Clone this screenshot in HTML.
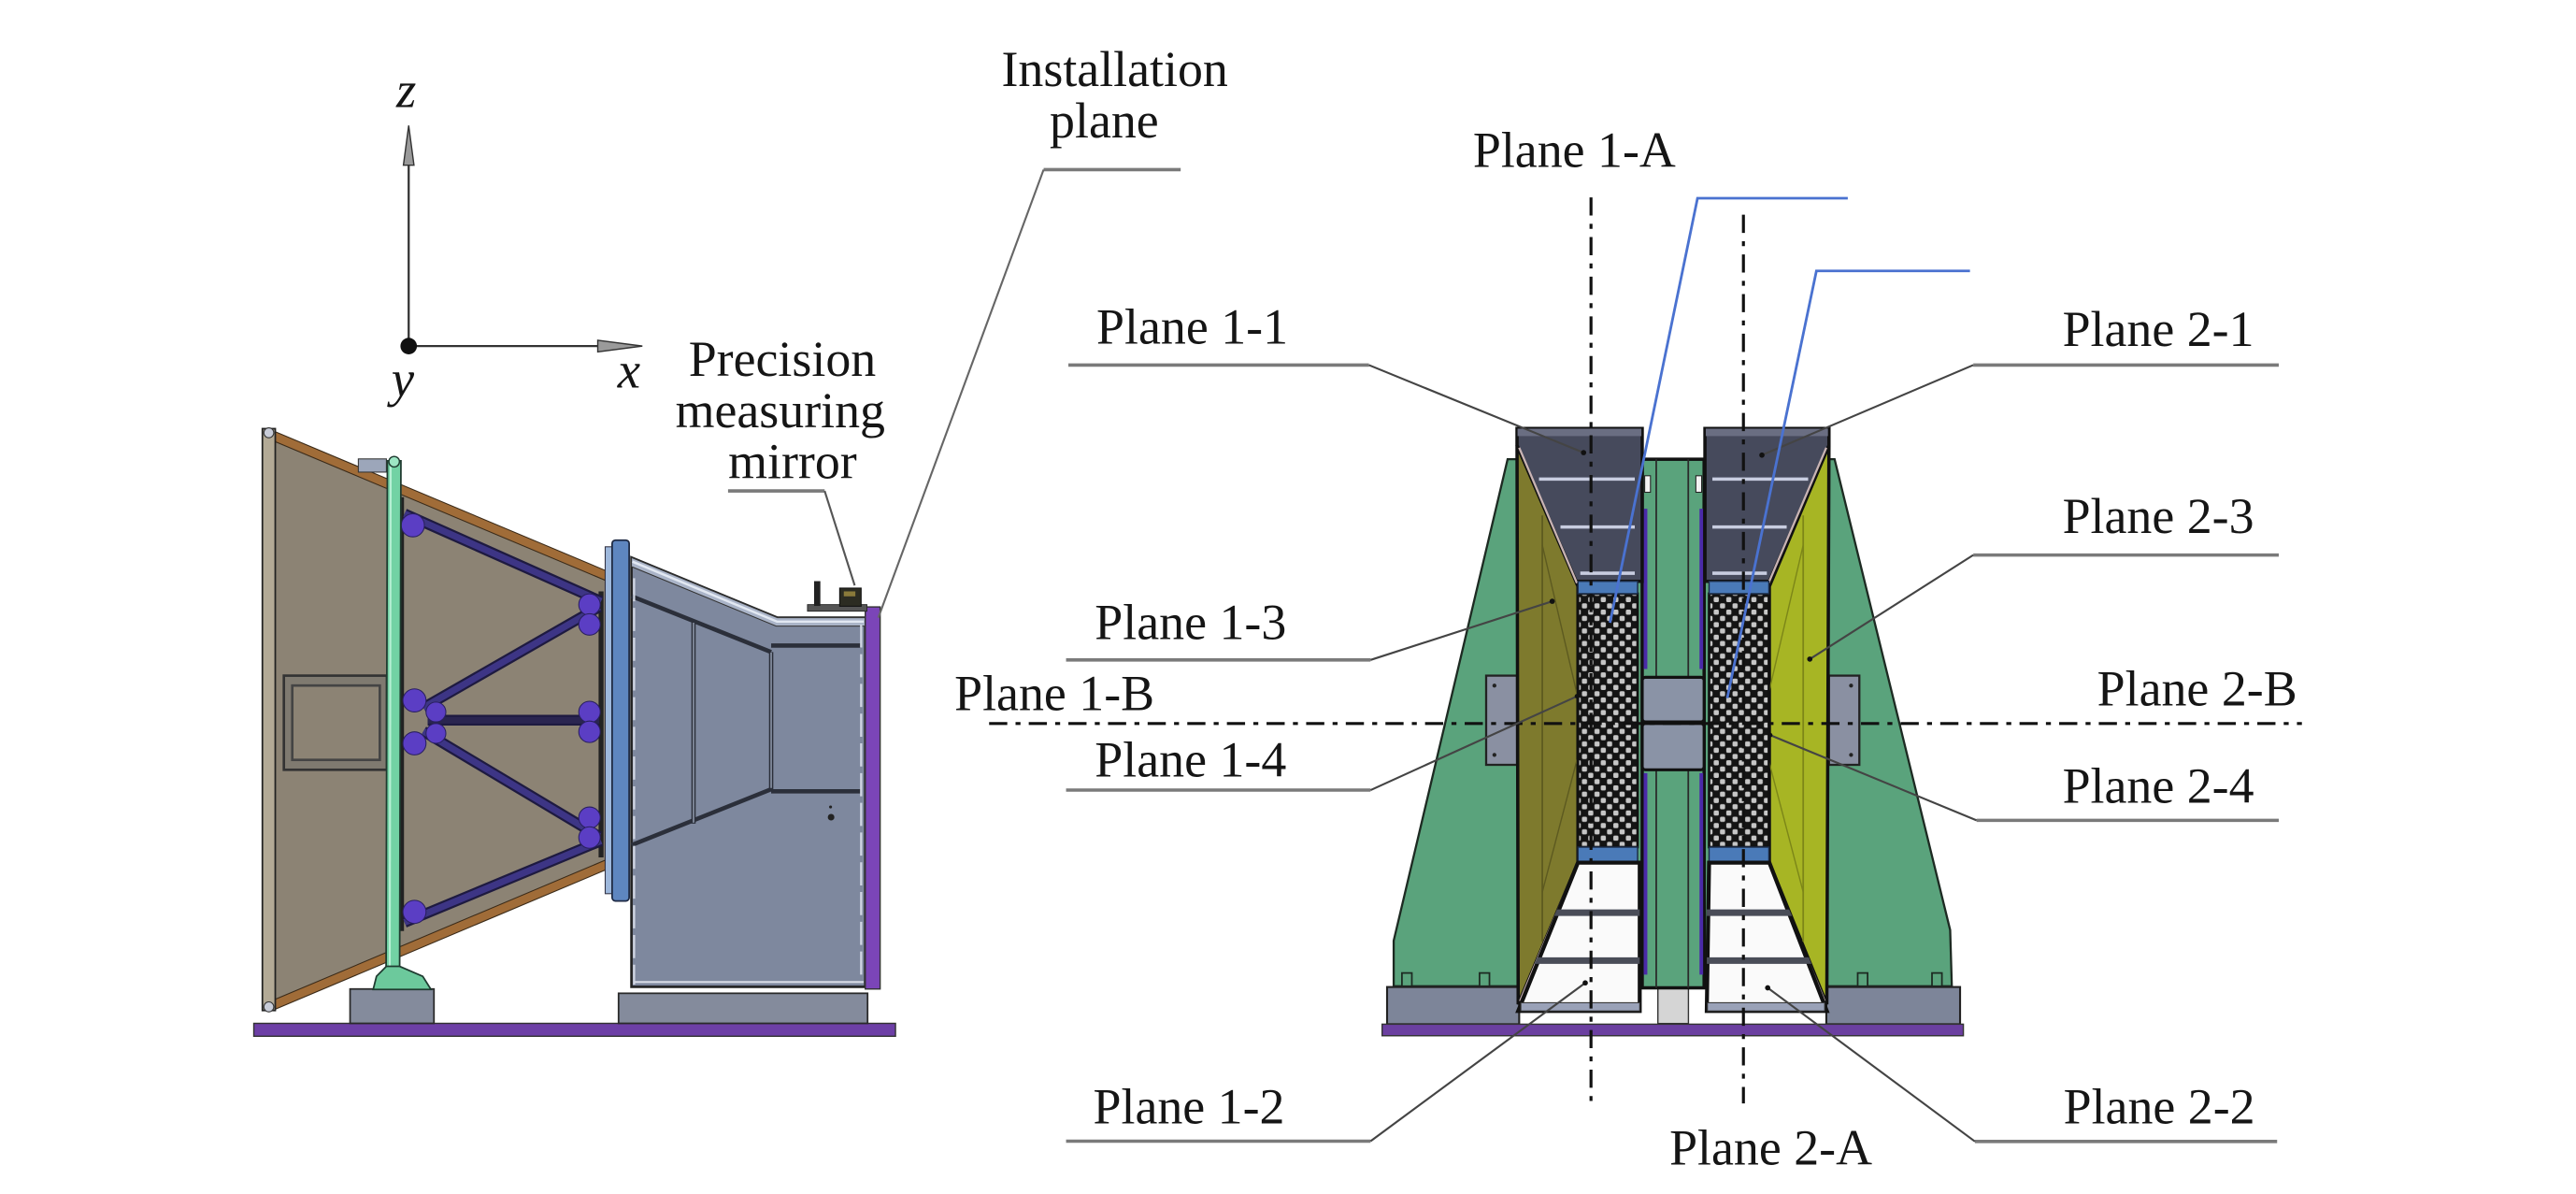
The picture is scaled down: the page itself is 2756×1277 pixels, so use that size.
<!DOCTYPE html>
<html>
<head>
<meta charset="utf-8">
<style>
html,body{margin:0;padding:0;background:#fff;}
svg{display:block;}
text{font-family:"Liberation Serif","Times New Roman",serif;fill:#151515;}
</style>
</head>
<body>
<svg width="2756" height="1277" viewBox="0 0 1560 722.8" preserveAspectRatio="none" xmlns="http://www.w3.org/2000/svg">
<defs>
<pattern id="chk" width="7.6" height="7.6" patternUnits="userSpaceOnUse">
<rect width="7.6" height="7.6" fill="#141414"/>
<rect x="0.4" y="0.4" width="3.1" height="3.1" rx="0.9" fill="#c6c6c6"/>
<rect x="4.2" y="4.2" width="3.1" height="3.1" rx="0.9" fill="#c6c6c6"/>
</pattern>
</defs>
<rect x="0" y="0" width="1560" height="722.8" fill="#fff"/>

<!-- ================= LEFT: axes ================= -->
<line x1="247.5" y1="98" x2="247.5" y2="209" stroke="#333" stroke-width="1.3"/>
<polygon points="247.5,76 244.3,100 250.7,100" fill="#9a9a9a" stroke="#333" stroke-width="0.8"/>
<line x1="247.5" y1="209.5" x2="362" y2="209.5" stroke="#333" stroke-width="1.3"/>
<polygon points="389,209.5 362,206 362,213" fill="#9a9a9a" stroke="#333" stroke-width="0.8"/>
<circle cx="247.5" cy="209.5" r="5" fill="#111"/>
<text x="240" y="64.7" font-size="31" font-style="italic">z</text>
<text x="237" y="240" font-size="31" font-style="italic">y</text>
<text x="374" y="234.5" font-size="31" font-style="italic">x</text>

<!-- labels left -->
<text x="606.5" y="52" font-size="30.5">Installation</text>
<text x="635.7" y="83.2" font-size="30.5">plane</text>
<text x="417" y="227.5" font-size="30.5">Precision</text>
<text x="409" y="258.7" font-size="30.5">measuring</text>
<text x="441" y="289.6" font-size="30.5">mirror</text>

<!-- ================= LEFT DEVICE ================= -->
<!-- base plate -->
<rect x="153.7" y="619.5" width="388.6" height="7.8" fill="#6d3fa6" stroke="#333" stroke-width="0.8"/>
<rect x="212" y="598.7" width="50.8" height="20.8" fill="#848b9c" stroke="#2a2a2a" stroke-width="1"/>
<rect x="374.6" y="601.3" width="150.8" height="18.2" fill="#848b9c" stroke="#2a2a2a" stroke-width="1"/>

<!-- horn -->
<polygon points="162.8,260.8 369.4,347.9 369.4,524.6 162.8,611.7" fill="#8c8374" stroke="#222" stroke-width="1"/>
<polygon points="163,259.8 369.4,346.5 369.4,352.5 163,265.8" fill="#a06c38" stroke="#3a2a18" stroke-width="0.6"/>
<polygon points="163,612.5 369.4,525.5 369.4,519.5 163,606.5" fill="#a06c38" stroke="#3a2a18" stroke-width="0.6"/>
<rect x="158.9" y="259.5" width="7.8" height="352.2" fill="#b3aa96" stroke="#222" stroke-width="1"/>
<circle cx="162.8" cy="262" r="3" fill="#c8ccd8" stroke="#333" stroke-width="0.6"/>
<circle cx="162.8" cy="609.5" r="3" fill="#c8ccd8" stroke="#333" stroke-width="0.6"/>

<!-- window -->
<rect x="171.9" y="409" width="62.4" height="57" fill="#7f7a70" stroke="#333" stroke-width="1.5"/>
<rect x="177" y="415" width="53" height="45" fill="#8c8374" stroke="#444" stroke-width="1.5"/>

<!-- frame struts -->
<line x1="243.4" y1="301" x2="243.4" y2="563.6" stroke="#222" stroke-width="2.5"/>
<line x1="364" y1="358" x2="364" y2="519" stroke="#222" stroke-width="3"/>
<g stroke="#1e1a40" stroke-width="6.5" stroke-linecap="butt">
<line x1="245" y1="311" x2="364" y2="364"/>
<line x1="256.4" y1="428.4" x2="362.9" y2="367.4"/>
<line x1="259" y1="436" x2="362.9" y2="436"/>
<line x1="256.4" y1="442.7" x2="362.9" y2="506.4"/>
<line x1="245" y1="558.4" x2="364" y2="509"/>
</g>
<g stroke="#3d3585" stroke-width="4" stroke-linecap="butt">
<line x1="245" y1="311" x2="364" y2="364"/>
<line x1="256.4" y1="428.4" x2="362.9" y2="367.4"/>
<line x1="256.4" y1="442.7" x2="362.9" y2="506.4"/>
<line x1="245" y1="558.4" x2="364" y2="509"/>
</g>
<line x1="259" y1="436" x2="362.9" y2="436" stroke="#2a2550" stroke-width="4"/>
<g fill="#5b3ec4" stroke="#2a2060" stroke-width="0.6">
<circle cx="250" cy="318" r="7"/>
<circle cx="357" cy="366" r="6.5"/>
<circle cx="357" cy="378" r="6.5"/>
<circle cx="251" cy="424" r="7"/>
<circle cx="264" cy="431" r="6"/>
<circle cx="357" cy="431" r="6.5"/>
<circle cx="357" cy="443" r="6.5"/>
<circle cx="264" cy="444" r="6"/>
<circle cx="251" cy="450" r="7"/>
<circle cx="357" cy="495" r="6.5"/>
<circle cx="357" cy="507" r="6.5"/>
<circle cx="251" cy="552" r="7"/>
</g>

<!-- green post -->
<rect x="217" y="277.8" width="17" height="8" fill="#9ca6ba" stroke="#333" stroke-width="0.6"/>
<polygon points="234.6,279 242.8,279 242,594 233.8,594" fill="#72d2a4" stroke="#1f3b30" stroke-width="1"/>
<line x1="236.6" y1="282" x2="236" y2="592" stroke="#b6f0d4" stroke-width="1.2"/>
<circle cx="238.7" cy="279.5" r="3.2" fill="#9de6c4" stroke="#1f3b30" stroke-width="0.8"/>
<polygon points="234,585 242,585 256,591 261,599 226,599 228,591" fill="#6cc99c" stroke="#1f3b30" stroke-width="1"/>

<!-- flange -->
<rect x="366.5" y="331" width="5" height="210" fill="#9eb8dc" stroke="#334" stroke-width="0.6"/>
<rect x="370.7" y="327" width="10.3" height="218.4" rx="2" fill="#5e86c0" stroke="#1e2a44" stroke-width="1"/>

<!-- gray box -->
<polygon points="382.4,337.5 470.8,373.9 524,373.9 524,597.4 382.4,597.4" fill="#7e889e" stroke="#222" stroke-width="1.5"/>
<polygon points="382.4,337.5 470.8,373.9 524,373.9 524,379 470,379 382.4,343" fill="#aab4c8" stroke="#333" stroke-width="0.6"/>
<polyline points="383,340 470.5,376.3 523,376.3" fill="none" stroke="#e2e8f2" stroke-width="1.4"/>
<g stroke="#2b2f3a" stroke-width="2.6" fill="none">
<line x1="420" y1="376.4" x2="420" y2="498.6"/>
<line x1="467" y1="394.7" x2="467" y2="477.8"/>
<line x1="467" y1="390.8" x2="521" y2="390.8"/>
<line x1="467" y1="479" x2="521" y2="479"/>
<line x1="382.4" y1="360.9" x2="467" y2="394.7"/>
<line x1="382.4" y1="511.6" x2="467" y2="477.8"/>
</g>
<g stroke="#9aa4b8" stroke-width="0.8" fill="none">
<line x1="420" y1="377" x2="420" y2="498"/>
<line x1="467" y1="395" x2="467" y2="477"/>
</g>
<line x1="384" y1="350" x2="384" y2="596" stroke="#d0d6e2" stroke-width="1.3" stroke-dasharray="14 4"/>
<line x1="521.5" y1="378" x2="521.5" y2="595" stroke="#d0d6e2" stroke-width="1.3" stroke-dasharray="14 4"/>
<line x1="384" y1="594.5" x2="523" y2="594.5" stroke="#d8dce6" stroke-width="1.2"/>
<circle cx="503.3" cy="494.7" r="2" fill="#222"/>
<circle cx="503" cy="488.5" r="0.9" fill="#222"/>

<!-- purple right plate -->
<rect x="524" y="367.4" width="9" height="231.3" fill="#7b45b8" stroke="#333" stroke-width="0.8"/>

<!-- mirror -->
<rect x="489" y="366" width="36" height="4" fill="#555" stroke="#222" stroke-width="0.5"/>
<rect x="493" y="351.8" width="3.8" height="15" fill="#222"/>
<rect x="508.5" y="356" width="13" height="11" fill="#2c2c22" stroke="#111" stroke-width="0.6"/>
<rect x="511" y="358" width="7" height="3" fill="#8a7a3a"/>

<!-- left leaders -->
<line x1="632" y1="102.7" x2="715" y2="102.7" stroke="#7a7a7a" stroke-width="2"/>
<line x1="632" y1="102.7" x2="531.9" y2="373.9" stroke="#666" stroke-width="1.2"/>
<line x1="440.9" y1="297.2" x2="499.4" y2="297.2" stroke="#7a7a7a" stroke-width="2"/>
<line x1="499.4" y1="297.2" x2="517.6" y2="354.4" stroke="#555" stroke-width="1.2"/>

<!-- ================= RIGHT DEVICE ================= -->
<!-- green body -->
<polygon points="913,278 1111,278 1181,563 1182,597 844,597 844,569.5" fill="#5aa37c" stroke="#1d2a22" stroke-width="1.3"/>
<!-- feet notches -->
<g fill="#5aa37c" stroke="#1d2a22" stroke-width="1">
<rect x="849" y="589" width="6" height="8"/>
<rect x="896" y="589" width="6" height="8"/>
<rect x="1125" y="589" width="6" height="8"/>
<rect x="1170" y="589" width="6" height="8"/>
</g>
<!-- base -->
<rect x="840" y="597.5" width="80" height="22.5" fill="#7d8599" stroke="#222" stroke-width="1.2"/>
<rect x="1106" y="597.5" width="81" height="22.5" fill="#7d8599" stroke="#222" stroke-width="1.2"/>
<rect x="1004" y="598" width="18.5" height="21.6" fill="#d5d5d5" stroke="#333" stroke-width="0.8"/>
<rect x="837" y="620" width="352" height="7" fill="#6b3fa0" stroke="#333" stroke-width="0.8"/>

<!-- brackets -->
<rect x="900" y="409" width="18.7" height="54" fill="#8a90a2" stroke="#222" stroke-width="1.3"/>
<circle cx="905" cy="415" r="1.2" fill="#222"/><circle cx="905" cy="457" r="1.2" fill="#222"/>
<rect x="1107.6" y="409" width="18.4" height="54" fill="#8a90a2" stroke="#222" stroke-width="1.3"/>
<circle cx="1121" cy="415" r="1.2" fill="#222"/><circle cx="1121" cy="457" r="1.2" fill="#222"/>

<!-- yellow panels -->
<polygon points="918.7,269.6 955.6,355 955.6,522 919.4,608" fill="#7e7a2d" stroke="#111" stroke-width="2"/>
<polygon points="1107.6,269.6 1071.5,355 1071.5,522 1106.3,608" fill="#a7b524" stroke="#111" stroke-width="2"/>
<line x1="934" y1="312" x2="934" y2="570" stroke="#5d5a20" stroke-width="1"/>
<line x1="1092" y1="312" x2="1092" y2="570" stroke="#7c8618" stroke-width="1"/>
<line x1="934" y1="330" x2="955" y2="420" stroke="#5d5a20" stroke-width="0.8"/>
<line x1="934" y1="540" x2="955" y2="460" stroke="#5d5a20" stroke-width="0.8"/>
<line x1="1092" y1="330" x2="1071" y2="420" stroke="#7c8618" stroke-width="0.8"/>
<line x1="1092" y1="540" x2="1071" y2="460" stroke="#7c8618" stroke-width="0.8"/>

<!-- center column -->
<rect x="994.5" y="278" width="37.5" height="320" fill="#5aa37c" stroke="#111" stroke-width="2"/>
<line x1="1003" y1="278" x2="1003" y2="598" stroke="#2a2a2a" stroke-width="1"/>
<line x1="1022.4" y1="278" x2="1022.4" y2="598" stroke="#2a2a2a" stroke-width="1"/>
<g stroke="#4a2aa8" stroke-width="2.2">
<line x1="996.5" y1="308" x2="996.5" y2="405"/>
<line x1="996.5" y1="468" x2="996.5" y2="590"/>
<line x1="1030.3" y1="308" x2="1030.3" y2="405"/>
<line x1="1030.3" y1="468" x2="1030.3" y2="590"/>
</g>
<rect x="996" y="288" width="3.5" height="10" fill="#f2f2f2" stroke="#222" stroke-width="0.6"/>
<rect x="1027" y="288" width="3.5" height="10" fill="#f2f2f2" stroke="#222" stroke-width="0.6"/>
<rect x="994.5" y="410" width="37.5" height="27" rx="2" fill="#8a93a6" stroke="#111" stroke-width="1.8"/>
<rect x="994.5" y="438" width="37.5" height="28" rx="2" fill="#8a93a6" stroke="#111" stroke-width="1.8"/>

<!-- dark boxes -->
<polygon points="918.7,259.4 994.5,259.4 994.5,351.9 954.5,351.9 918.7,269.6" fill="#464a5c" stroke="#111" stroke-width="2"/>
<rect x="919" y="259.5" width="75" height="4.5" fill="#6a6e82"/>
<polygon points="1032.5,259.4 1107.6,259.4 1107.6,269.6 1071.5,351.9 1032.5,351.9" fill="#464a5c" stroke="#111" stroke-width="2"/>
<rect x="1033" y="259.5" width="74" height="4.5" fill="#6a6e82"/>
<g stroke="#c8cde0" stroke-width="2">
<line x1="932" y1="290" x2="990" y2="290"/>
<line x1="945" y1="319" x2="990" y2="319"/>
<line x1="957" y1="347" x2="990" y2="347"/>
<line x1="1037" y1="290" x2="1095" y2="290"/>
<line x1="1037" y1="319" x2="1082" y2="319"/>
<line x1="1037" y1="347" x2="1070" y2="347"/>
</g>
<!-- slanted light edges -->
<g stroke="#c9b4b4" stroke-width="1.3">
<line x1="920" y1="271" x2="955" y2="353"/>
<line x1="955" y1="523" x2="920.5" y2="606"/>
<line x1="1106" y1="271" x2="1071" y2="353"/>
<line x1="1071" y1="523" x2="1105" y2="606"/>
</g>

<!-- checker columns -->
<rect x="955.6" y="359.4" width="36.1" height="153.4" fill="url(#chk)" stroke="#111" stroke-width="1.5"/>
<rect x="1035" y="359.4" width="36.2" height="153.4" fill="url(#chk)" stroke="#111" stroke-width="1.5"/>
<rect x="955.6" y="351.9" width="36.1" height="7.5" fill="#4a7ab8" stroke="#1a2a44" stroke-width="0.8"/>
<rect x="1035" y="351.9" width="36.2" height="7.5" fill="#4a7ab8" stroke="#1a2a44" stroke-width="0.8"/>
<rect x="955.6" y="512.8" width="36.1" height="9.4" fill="#4a7ab8" stroke="#1a2a44" stroke-width="0.8"/>
<rect x="1035" y="512.8" width="36.2" height="9.4" fill="#4a7ab8" stroke="#1a2a44" stroke-width="0.8"/>

<!-- white lower trapezoids -->
<polygon points="955.6,522.2 993,522.2 993,612 919.4,612" fill="#fafafa" stroke="#111" stroke-width="2.4"/>
<polygon points="1035,522.2 1071.5,522.2 1106.3,612 1033.6,612" fill="#fafafa" stroke="#111" stroke-width="2.4"/>
<g fill="#4a4d58">
<polygon points="943,550.5 993,550.5 993,554.5 941.3,554.5"/>
<polygon points="931,579.5 993,579.5 993,583.5 929.3,583.5"/>
<polygon points="1033.6,550.5 1083.5,550.5 1085.2,554.5 1033.6,554.5"/>
<polygon points="1033.6,579.5 1095.4,579.5 1097,583.5 1033.6,583.5"/>
</g>
<rect x="921" y="607" width="72" height="5" fill="#9aa2b8" stroke="#333" stroke-width="0.6"/>
<rect x="1034" y="607" width="71" height="5" fill="#9aa2b8" stroke="#333" stroke-width="0.6"/>

<!-- dash-dot axes -->
<g stroke="#111" stroke-width="1.8" fill="none" stroke-dasharray="11 5 3 5">
<line x1="963.5" y1="119.5" x2="963.5" y2="668"/>
<line x1="1055.8" y1="130" x2="1055.8" y2="668"/>
<line x1="599" y1="438" x2="1394" y2="438"/>
</g>

<!-- right leaders -->
<g stroke="#7a7a7a" stroke-width="2" fill="none">
<line x1="647" y1="221" x2="829" y2="221"/>
<line x1="645.6" y1="399.5" x2="830" y2="399.5"/>
<line x1="645.6" y1="478.3" x2="830" y2="478.3"/>
<line x1="645.6" y1="690.8" x2="830" y2="690.8"/>
<line x1="1195" y1="221" x2="1380" y2="221"/>
<line x1="1195" y1="336" x2="1380" y2="336"/>
<line x1="1197" y1="496.6" x2="1380" y2="496.6"/>
<line x1="1196" y1="691" x2="1379" y2="691"/>
</g>
<g stroke="#444" stroke-width="1.2" fill="none">
<line x1="829" y1="221" x2="959" y2="274"/>
<line x1="830" y1="399.5" x2="940" y2="364"/>
<line x1="830" y1="478.3" x2="955" y2="421.5"/>
<line x1="830" y1="690.8" x2="960" y2="595"/>
<line x1="1195" y1="221" x2="1067" y2="275.5"/>
<line x1="1195" y1="336" x2="1096" y2="399"/>
<line x1="1197" y1="496.6" x2="1072" y2="445"/>
<line x1="1196" y1="691" x2="1070.5" y2="598"/>
</g>
<g fill="#111">
<circle cx="959" cy="274" r="1.6"/>
<circle cx="940" cy="364" r="1.6"/>
<circle cx="955" cy="421.5" r="1.4"/>
<circle cx="960" cy="595" r="1.6"/>
<circle cx="1067" cy="275.5" r="1.6"/>
<circle cx="1096" cy="399" r="1.6"/>
<circle cx="1072" cy="445" r="1.4"/>
<circle cx="1070.5" cy="598" r="1.6"/>
</g>
<!-- blue leaders -->
<g stroke="#4a72d0" stroke-width="1.6" fill="none">
<polyline points="1119,120 1028,120 975,377"/>
<polyline points="1193,164 1100,164 1046,422.6"/>
</g>

<!-- right labels -->
<g font-size="30.5">
<text x="892" y="101">Plane 1-A</text>
<text x="664" y="208">Plane 1-1</text>
<text x="1249" y="209.5">Plane 2-1</text>
<text x="1249" y="322.5">Plane 2-3</text>
<text x="663" y="387">Plane 1-3</text>
<text x="578" y="430">Plane 1-B</text>
<text x="1270" y="427">Plane 2-B</text>
<text x="663" y="470">Plane 1-4</text>
<text x="1249" y="486">Plane 2-4</text>
<text x="662" y="680">Plane 1-2</text>
<text x="1249.6" y="680">Plane 2-2</text>
<text x="1011" y="705">Plane 2-A</text>
</g>
</svg>
</body>
</html>
